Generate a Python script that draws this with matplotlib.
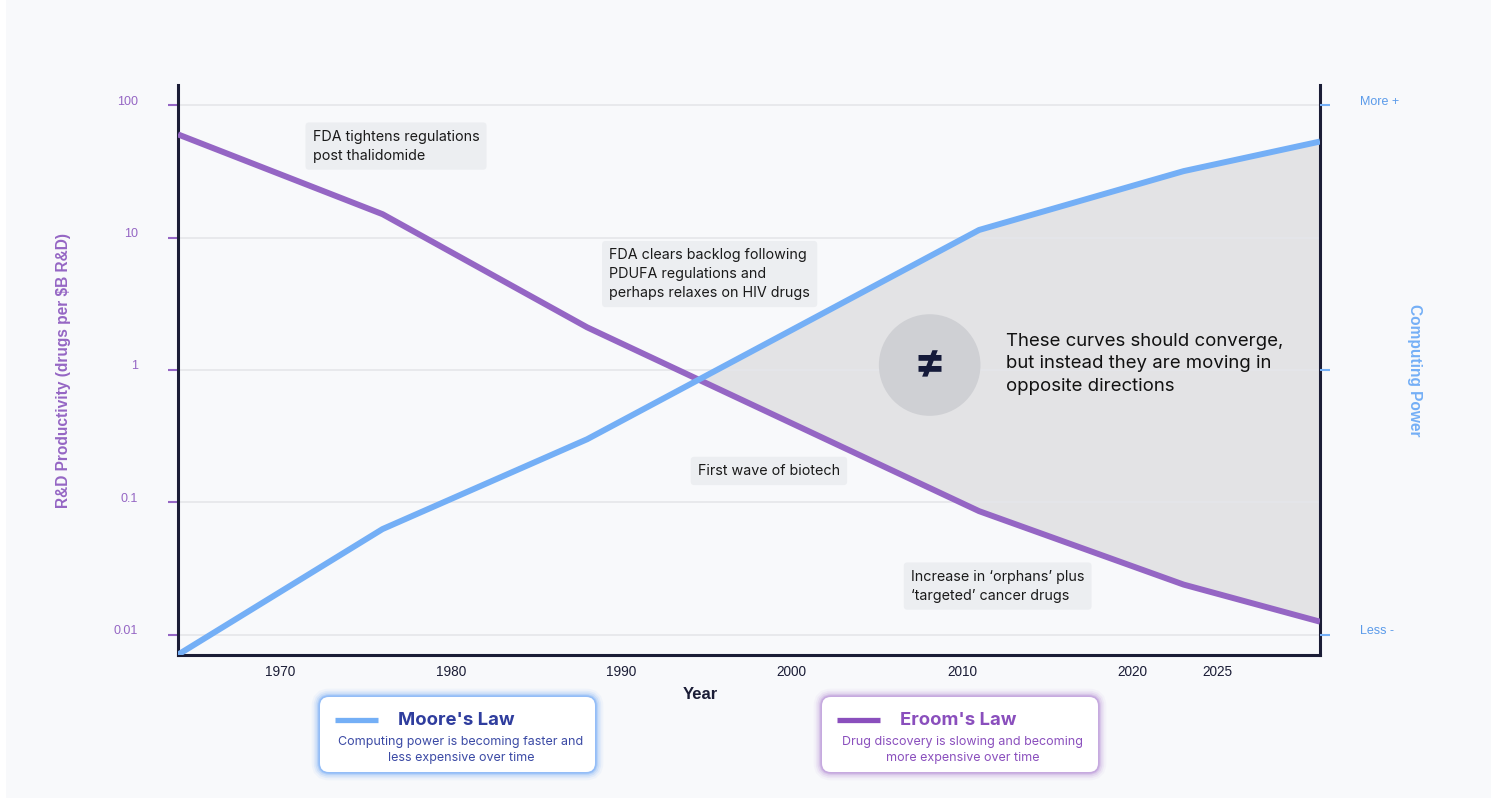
import numpy as np
import matplotlib.pyplot as plt
from matplotlib.patches import FancyBboxPatch, Rectangle
from matplotlib.ticker import NullLocator
from matplotlib.transforms import ScaledTranslation

# Data
years = [1964, 1976, 1988, 2011, 2023, 2031]
eroom = [60, 15, 2.1, 0.086, 0.024, 0.0126]      # drugs per $B R&D
moore = [0.0071, 0.063, 0.30, 11.4, 31.7, 53]     # computing power (relative)

x_ticks = [1970, 1980, 1990, 2000, 2010, 2020, 2025]
y_ticks = [100, 10, 1, 0.1, 0.01]
y_tick_labels = ['100', '10', '1', '0.1', '0.01']
right_ticks = [100, 1, 0.01]
right_tick_labels = ['More +', '', 'Less -']

notes = [
    ('FDA tightens regulations\npost thalidomide', 1971.9, 49),
    ('FDA clears backlog following\nPDUFA regulations and\nperhaps relaxes on HIV drugs', 1989.3, 5.3),
    ('First wave of biotech', 1994.5, 0.173),
    ('Increase in \u2018orphans\u2019 plus\n\u2018targeted\u2019 cancer drugs', 2007.0, 0.0234),
]

# Colours
bg = '#f8f9fb'
purple = '#9566c4'
purple_dark = '#8a4fbd'
blue = '#74aff6'
blue_text = '#5b9bea'
navy = '#1b1d36'
moore_title = '#2f3d9e'

fig = plt.figure(figsize=(14.91, 8.05), dpi=100)
fig.patch.set_facecolor('white')
fig.add_artist(Rectangle((6 / 1491, 7 / 805), 1, 1, transform=fig.transFigure,
                         facecolor=bg, edgecolor='none', zorder=-10))

ax = fig.add_axes([178 / 1491, 1 - 655 / 805, 1142 / 1491, 570 / 805])
ax.set_facecolor('none')
ax.set_yscale('log')
ax.set_xlim(1964, 2031)
ax.set_ylim(0.00706, 141.6)

# Shaded gap after the curves cross (crossing found in log space)
le = np.log10(eroom)
lm = np.log10(moore)
d = lm - le
i = int(np.where((d[:-1] < 0) & (d[1:] >= 0))[0][0])
t = -d[i] / (d[i + 1] - d[i])
xc = years[i] + t * (years[i + 1] - years[i])
yc = 10 ** (le[i] + t * (le[i + 1] - le[i]))
ax.fill_between([xc] + years[i + 1:], [yc] + eroom[i + 1:], [yc] + moore[i + 1:],
                color='#bcbcbc', alpha=0.35, linewidth=0, zorder=1)

ax.plot(years, eroom, color=purple, linewidth=4.3, solid_capstyle='butt', zorder=3)
ax.plot(years, moore, color=blue, linewidth=4.3, solid_capstyle='butt', zorder=3)

# Grid and spines
ax.grid(axis='y', which='major', color='#e5e6ea', linewidth=1.2)
ax.grid(axis='x', visible=False)
ax.spines['top'].set_visible(False)
for s in ['left', 'bottom', 'right']:
    ax.spines[s].set_color(navy)
    ax.spines[s].set_linewidth(2.2)

# Axis ticks
ax.set_xticks(x_ticks)
ax.set_xticklabels([str(x) for x in x_ticks], fontfamily='Liberation Sans')
ax.tick_params(axis='x', length=0, pad=7, labelsize=9.8, labelcolor=navy)
ax.set_yticks(y_ticks)
ax.set_yticklabels(y_tick_labels, fontfamily='Liberation Sans')
ax.yaxis.set_minor_locator(NullLocator())
ax.tick_params(axis='y', which='major', length=7, width=1.5, color=purple,
               pad=22, labelsize=9, labelcolor=purple)
for lab in ax.get_yticklabels():
    lab.set_transform(lab.get_transform() + ScaledTranslation(0, 5 / 100, fig.dpi_scale_trans))

ax.set_xlabel('Year', fontfamily='Liberation Sans', fontweight='bold', fontsize=12, color=navy)
ax.xaxis.set_label_coords(0.457, -0.056)
ax.set_ylabel('R&D Productivity (drugs per $B R&D)', fontfamily='Liberation Sans',
              fontweight='bold', fontsize=11.2, color=purple)
ax.yaxis.set_label_coords(-0.094, 0.5)

# Right axis
ax2 = ax.twinx()
ax2.set_yscale('log')
ax2.set_ylim(ax.get_ylim())
for s in ax2.spines.values():
    s.set_visible(False)
ax2.set_yticks(right_ticks)
ax2.set_yticklabels(right_tick_labels, fontfamily='Liberation Sans')
ax2.yaxis.set_minor_locator(NullLocator())
ax2.tick_params(axis='y', which='major', length=7, width=1.5, color=blue,
                pad=22, labelsize=9, labelcolor=blue_text)
for lab in ax2.get_yticklabels():
    lab.set_transform(lab.get_transform() + ScaledTranslation(0, 5 / 100, fig.dpi_scale_trans))
ax2.set_ylabel('Computing Power', fontfamily='Liberation Sans', fontweight='bold',
               fontsize=11.2, color=blue, rotation=270, labelpad=0)
ax2.yaxis.set_label_coords(1.089, 0.5)

# Annotation boxes
for text, x, y in notes:
    ax.text(x, y, text, ha='left', va='center', fontsize=10.3, fontfamily='Inter',
            color='#1a1a1a', linespacing=1.45, zorder=5,
            bbox=dict(boxstyle='round,pad=0.5,rounding_size=0.25', facecolor='#eceef1',
                      edgecolor='none'))

# Not-equal circle and message
ax.text(2008.1, 1.09, '\u2260', ha='center', va='center', fontsize=34, fontweight='bold',
        family=['Inter', 'DejaVu Sans'], color='#151a3a', zorder=5,
        bbox=dict(boxstyle='circle,pad=0.61', facecolor='#cfd0d4', edgecolor='none'))
ax.text(2012.6, 1.11, 'These curves should converge,\nbut instead they are moving in\nopposite directions',
        ha='left', va='center', fontsize=13.4, fontfamily='Inter', color='#111111',
        linespacing=1.45, zorder=5)

# Legend cards drawn in pixel coordinates
ov = fig.add_axes([0, 0, 1, 1], zorder=5)
ov.set_xlim(0, 1491)
ov.set_ylim(805, 0)
ov.axis('off')


def legend_card(x0, y0, w, h, glow, line_col, title, title_col, sub, sub_col):
    for lw, a in [(12, 0.08), (9, 0.14), (6.5, 0.22), (4, 0.4), (2.4, 0.75)]:
        ov.add_patch(FancyBboxPatch((x0, y0), w, h, boxstyle='round,pad=0,rounding_size=9',
                                    facecolor='white', edgecolor=glow, linewidth=lw, alpha=a))
    ov.add_patch(FancyBboxPatch((x0, y0), w, h, boxstyle='round,pad=0,rounding_size=9',
                                facecolor='white', edgecolor='none'))
    ov.plot([x0 + 15, x0 + 58], [y0 + 23, y0 + 23], color=line_col, linewidth=3.8,
            solid_capstyle='butt')
    ov.text(x0 + 136, y0 + 23, title, ha='center', va='center', fontsize=13.3,
            fontweight='bold', fontfamily='Inter', color=title_col)
    ov.text(x0 + 141, y0 + 53, sub, ha='center', va='center', fontsize=9,
            fontfamily='Inter', color=sub_col, linespacing=1.5)


legend_card(320, 697, 275, 75, '#8ab8f7', blue, "Moore's Law", moore_title,
            'Computing power is becoming faster and\nless expensive over time', '#3b4aa5')
legend_card(822, 697, 276, 75, '#c2a3dd', purple_dark, "Eroom's Law", purple_dark,
            'Drug discovery is slowing and becoming\nmore expensive over time', purple_dark)

fig.savefig('out.png', dpi=100, facecolor=fig.get_facecolor())
